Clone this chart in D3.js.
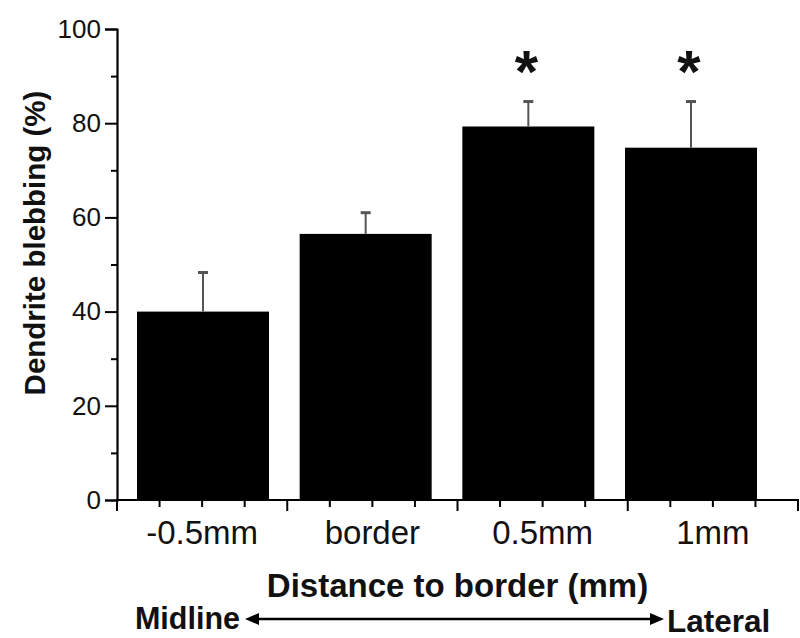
<!DOCTYPE html>
<html>
<head>
<meta charset="utf-8">
<script src="https://cdn.jsdelivr.net/npm/d3@7"></script>
<style>
  html, body { margin: 0; padding: 0; background: #fff; }
  svg { display: block; font-family: "Liberation Sans", Arial, sans-serif; }
</style>
</head>
<body>
<svg id="chart" width="800" height="638"></svg>
<script>
// ---- data ----
const categories = ["-0.5mm", "border", "0.5mm", "1mm"];
const means = [40, 56.5, 79.3, 74.8];
const errors = [8.3, 4.5, 5.3, 9.8];
const significant = [false, false, true, true];
const yTicks = [0, 20, 40, 60, 80, 100];
const yMinorTicks = [10, 30, 50, 70, 90];

const svg = d3.select("#chart");

// ---- scales ----
const y = d3.scaleLinear().domain([0, 100]).range([500, 29]);
const xAxisScale = d3.scaleLinear().domain([0, categories.length]).range([117, 798]);
const xBar = d3.scalePoint().domain(categories).range([203, 691]);
const barWidth = 132;

// ---- bars ----
svg.append("g").selectAll("rect").data(categories).join("rect")
  .attr("x", d => xBar(d) - barWidth / 2)
  .attr("y", (d, i) => y(means[i]))
  .attr("width", barWidth)
  .attr("height", (d, i) => y(0) - y(means[i]))
  .attr("fill", "#000");

// ---- error bars ----
const eg = svg.append("g").attr("stroke", "#555");
eg.selectAll("line.v").data(categories).join("line")
  .attr("class", "v")
  .attr("x1", d => xBar(d)).attr("x2", d => xBar(d))
  .attr("y1", (d, i) => y(means[i])).attr("y2", (d, i) => y(means[i] + errors[i]))
  .attr("stroke-width", 2);
eg.selectAll("line.c").data(categories).join("line")
  .attr("class", "c")
  .attr("x1", d => xBar(d) - 5).attr("x2", d => xBar(d) + 5)
  .attr("y1", (d, i) => y(means[i] + errors[i])).attr("y2", (d, i) => y(means[i] + errors[i]))
  .attr("stroke-width", 3);

// ---- significance asterisks ----
svg.append("g").selectAll("text").data(categories.filter((d, i) => significant[i])).join("text")
  .attr("x", d => xBar(d) - 2)
  .attr("y", d => y(means[categories.indexOf(d)] + errors[categories.indexOf(d)]) - 10)
  .attr("text-anchor", "middle")
  .attr("font-size", 60)
  .attr("font-weight", "bold")
  .attr("fill", "#111")
  .text("*");

// ---- y axis ----
const yAxis = svg.append("g").attr("transform", "translate(117,0)")
  .call(d3.axisLeft(y).tickValues(yTicks).tickSize(12).tickPadding(4).tickFormat(d3.format("d")));
yAxis.select(".domain").attr("stroke-width", 2.2);
yAxis.selectAll(".tick line").attr("stroke-width", 2);
yAxis.selectAll(".tick text").attr("font-size", 26).attr("fill", "#111")
  .attr("font-family", "'Liberation Sans', Arial, sans-serif");
const yMinor = svg.append("g").attr("transform", "translate(117,0)")
  .call(d3.axisLeft(y).tickValues(yMinorTicks).tickSize(6).tickFormat(""));
yMinor.select(".domain").remove();
yMinor.selectAll(".tick line").attr("stroke-width", 2);

// ---- x axis ----
const quarterTicks = d3.range(0, categories.length + 0.001, 0.25);
const xg = svg.append("g").attr("transform", "translate(0,500)");
xg.append("line")
  .attr("x1", xAxisScale(0) - 1).attr("x2", xAxisScale(categories.length) + 1)
  .attr("stroke", "#000").attr("stroke-width", 2.2);
xg.selectAll("line.t").data(quarterTicks).join("line")
  .attr("class", "t")
  .attr("x1", d => xAxisScale(d)).attr("x2", d => xAxisScale(d))
  .attr("y1", 0).attr("y2", d => Number.isInteger(d) ? 11 : 7)
  .attr("stroke", "#000").attr("stroke-width", 2);
xg.selectAll("text").data(categories).join("text")
  .attr("x", (d, i) => xAxisScale(i + 0.5))
  .attr("y", 44)
  .attr("text-anchor", "middle")
  .attr("font-size", 33)
  .attr("fill", "#111")
  .text(d => d);

// ---- axis titles ----
svg.append("text")
  .attr("transform", "translate(45,243) rotate(-90)")
  .attr("text-anchor", "middle")
  .attr("font-size", 29.5)
  .attr("font-weight", "bold")
  .attr("fill", "#111")
  .text("Dendrite blebbing (%)");

svg.append("text")
  .attr("x", (xAxisScale(0) + xAxisScale(categories.length)) / 2)
  .attr("y", 597)
  .attr("text-anchor", "middle")
  .attr("font-size", 33)
  .attr("font-weight", "bold")
  .attr("fill", "#111")
  .text("Distance to border (mm)");

// ---- direction arrow ----
const ag = svg.append("g");
ag.append("text").attr("x", 240).attr("y", 629).attr("text-anchor", "end")
  .attr("font-size", 30.5).attr("font-weight", "bold").attr("fill", "#111").text("Midline");
ag.append("text").attr("x", 667).attr("y", 632).attr("text-anchor", "start")
  .attr("font-size", 31.5).attr("font-weight", "bold").attr("fill", "#111").text("Lateral");
ag.append("line").attr("x1", 252).attr("x2", 654).attr("y1", 619).attr("y2", 619)
  .attr("stroke", "#000").attr("stroke-width", 2.6);
ag.append("path").attr("d", "M245,619 L259,613 L259,625 Z").attr("fill", "#000");
ag.append("path").attr("d", "M664,619 L650,613 L650,625 Z").attr("fill", "#000");
</script>
</body>
</html>
